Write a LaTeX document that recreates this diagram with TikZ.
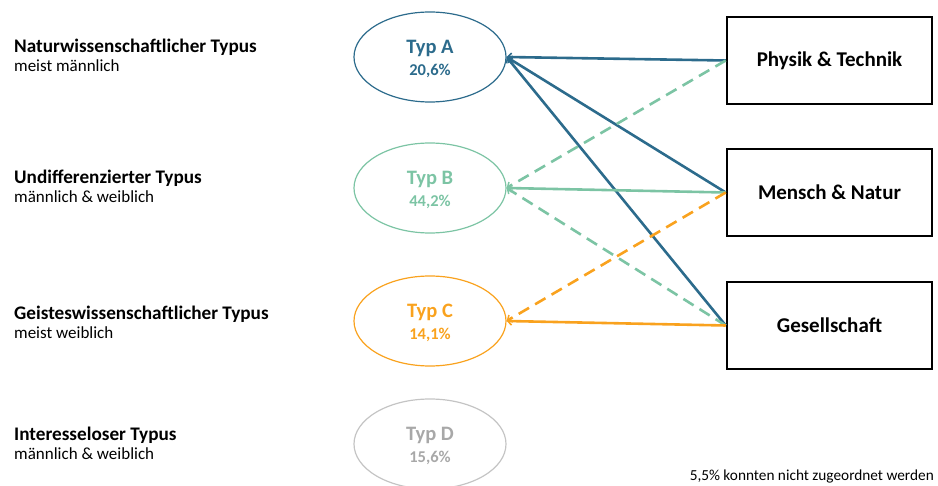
\documentclass[tikz,border=0pt]{standalone}
\usepackage{fontspec}
\setmainfont{Carlito}
\usetikzlibrary{shapes.geometric,arrows.meta}
\definecolor{typa}{HTML}{2C6B8C}
\definecolor{typb}{HTML}{7CC4A4}
\definecolor{typc}{HTML}{F9A21E}
\definecolor{typd}{HTML}{A8A8A8}
\definecolor{typdline}{HTML}{C4C4C4}
\tikzset{
  typoval/.style={ellipse, draw=#1, line width=1.2pt, minimum width=152pt, minimum height=90pt, inner sep=0pt},
  typname/.style={anchor=base, inner sep=0pt, text=#1, font=\fontsize{20.5}{24}\selectfont\bfseries},
  typshare/.style={anchor=base, inner sep=0pt, text=#1, font=\fontsize{16.5}{20}\selectfont\bfseries},
  fieldbox/.style={draw=black, line width=2.5pt, minimum width=205pt, minimum height=87pt, inner sep=0pt, font=\fontsize{21}{24}\selectfont\bfseries},
  titlelabel/.style={anchor=base west, inner sep=0pt, font=\fontsize{19.2}{22}\selectfont\bfseries},
  sublabel/.style={anchor=base west, inner sep=0pt, font=\fontsize{17}{20}\selectfont},
  link/.style={line width=2.6pt, draw=#1},
  tipin/.style={-{Straight Barb[length=4pt,width=8pt,line width=1.5pt]}},
  dashlink/.style={link=#1, dash pattern=on 12pt off 7pt},
}
\begin{document}
\begin{tikzpicture}[x=1pt,y=-1pt]
\useasboundingbox (0,0) rectangle (938,486);

% type labels on the left
\node[titlelabel] (la) at (14,53) {Naturwissenschaftlicher Typus};
\node[sublabel] (sa) at (14,72) {meist männlich};
\node[titlelabel] (lb) at (14,184) {Undifferenzierter Typus};
\node[sublabel] (sb) at (14,203) {männlich \& weiblich};
\node[titlelabel] (lc) at (14,320) {Geisteswissenschaftlicher Typus};
\node[sublabel] (sc) at (14,339) {meist weiblich};
\node[titlelabel] (ld) at (14,441) {Interesseloser Typus};
\node[sublabel] (sd) at (14,460) {männlich \& weiblich};

% type ovals with name and share
\node[typoval=typa] (A) at (430,57) {};
\node[typoval=typb] (B) at (430,188) {};
\node[typoval=typc] (C) at (430,321) {};
\node[typoval=typdline] (D) at (430,444) {};
\foreach \o/\c/\n/\p in {A/typa/Typ A/{20,6}, B/typb/Typ B/{44,2}, C/typc/Typ C/{14,1}, D/typd/Typ D/{15,6}}{
  \node[typname=\c] (\o n) at ([yshift=3pt]\o.center) {\n};
  \node[typshare=\c] (\o p) at ([yshift=-18.5pt]\o.center) {\p\%};
}

% interest fields
\node[fieldbox] (P) at (829.5,60.5) {Physik \& Technik};
\node[fieldbox] (M) at (829.5,192.5) {Mensch \& Natur};
\node[fieldbox] (G) at (829.5,325.5) {Gesellschaft};

% connectors
\draw[link=typa, tipin] (P.west) -- (A.east);
\draw[link=typa, tipin] (M.west) -- (A.east);
\draw[link=typa, tipin] (G.west) -- (A.east);
\draw[dashlink=typb, tipin] (P.west) -- (B.east);
\draw[dashlink=typb, tipin] (G.west) -- (B.east);
\draw[link=typb, tipin] (M.west) -- (B.east);
\draw[dashlink=typc, tipin] (M.west) -- (C.east);
\draw[link=typc, tipin] (G.west) -- (C.east);

% note
\node[anchor=base east, inner sep=0pt, font=\fontsize{15.3}{18}\selectfont] (note) at (934,480) {5,5\% konnten nicht zugeordnet werden};
\end{tikzpicture}
\end{document}
